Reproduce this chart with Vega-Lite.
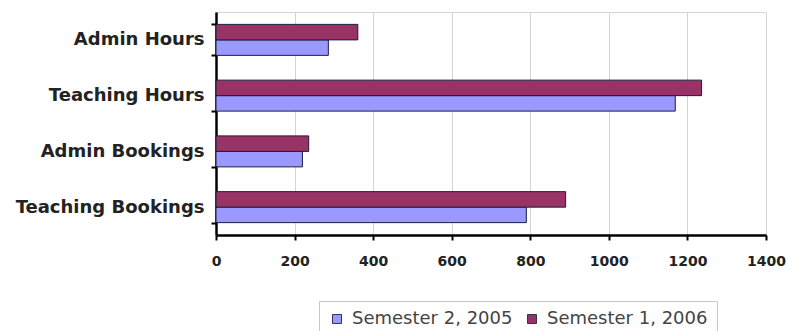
{
  "$schema": "https://vega.github.io/schema/vega-lite/v6.json",
  "width": 550,
  "height": 223,
  "autosize": {"type": "none"},
  "padding": {"left": 216, "top": 12, "right": 22, "bottom": 96},
  "background": "white",
  "config": {
    "view": {"stroke": "#d4d4d4", "strokeWidth": 1},
    "font": "DejaVu Sans"
  },
  "data": {
    "values": [
      {"category": "Admin Hours", "series": "Semester 2, 2005", "value": 286},
      {"category": "Admin Hours", "series": "Semester 1, 2006", "value": 361},
      {"category": "Teaching Hours", "series": "Semester 2, 2005", "value": 1169},
      {"category": "Teaching Hours", "series": "Semester 1, 2006", "value": 1236},
      {"category": "Admin Bookings", "series": "Semester 2, 2005", "value": 220},
      {"category": "Admin Bookings", "series": "Semester 1, 2006", "value": 236},
      {"category": "Teaching Bookings", "series": "Semester 2, 2005", "value": 790},
      {"category": "Teaching Bookings", "series": "Semester 1, 2006", "value": 890}
    ]
  },
  "mark": {"type": "bar", "stroke": "#1c1c40", "strokeWidth": 1},
  "encoding": {
    "y": {
      "field": "category",
      "type": "nominal",
      "sort": ["Admin Hours", "Teaching Hours", "Admin Bookings", "Teaching Bookings"],
      "scale": {"paddingInner": 0.444, "paddingOuter": 0.222},
      "axis": {
        "title": null,
        "labelFont": "DejaVu Sans",
        "labelFontSize": 18,
        "labelFontWeight": "bold",
        "labelColor": "#222222",
        "labelPadding": 7,
        "labelLimit": 260,
        "tickSize": 5,
        "tickWidth": 2,
        "tickColor": "#000000",
        "tickBand": "extent",
        "domainColor": "#000000",
        "domainWidth": 2.5,
        "grid": false
      }
    },
    "yOffset": {
      "field": "series",
      "type": "nominal",
      "sort": ["Semester 1, 2006", "Semester 2, 2005"],
      "scale": {"paddingInner": 0, "paddingOuter": 0}
    },
    "x": {
      "field": "value",
      "type": "quantitative",
      "scale": {"domain": [0, 1400], "nice": false},
      "axis": {
        "title": null,
        "values": [0, 200, 400, 600, 800, 1000, 1200, 1400],
        "format": "d",
        "labelFont": "DejaVu Sans",
        "labelFontSize": 14,
        "labelFontWeight": "bold",
        "labelColor": "#222222",
        "labelPadding": 14,
        "labelFlush": false,
        "tickSize": 5,
        "tickWidth": 2,
        "tickColor": "#000000",
        "domainColor": "#000000",
        "domainWidth": 2.5,
        "grid": true,
        "gridColor": "#d4d4d4",
        "gridWidth": 1
      }
    },
    "color": {
      "field": "series",
      "type": "nominal",
      "scale": {
        "domain": ["Semester 2, 2005", "Semester 1, 2006"],
        "range": ["#9999ff", "#993366"]
      },
      "legend": {
        "title": null,
        "orient": "none",
        "direction": "horizontal",
        "columns": 2,
        "legendX": 103,
        "legendY": 289,
        "padding": 9,
        "strokeColor": "#c8c8c8",
        "symbolType": "square",
        "symbolSize": 81,
        "symbolStrokeColor": "#333355",
        "symbolStrokeWidth": 1,
        "labelFont": "DejaVu Sans",
        "labelFontSize": 18,
        "labelColor": "#444444",
        "labelOffset": 6,
        "columnPadding": 10,
        "labelLimit": 300
      }
    }
  }
}
